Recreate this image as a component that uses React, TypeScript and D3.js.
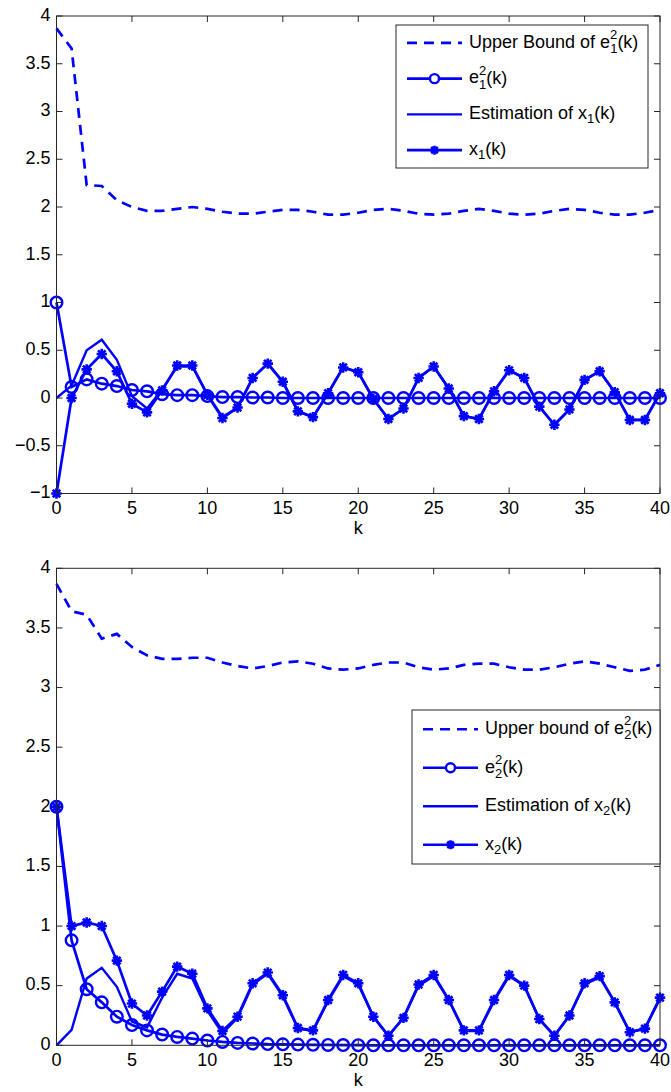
import * as d3 from "d3";

// k = 0..40
const upper1 = [3.87, 3.66, 2.23, 2.22, 2.07, 2.0, 1.96, 1.96, 1.98, 2.0, 1.98, 1.95, 1.93, 1.93, 1.95, 1.97, 1.97, 1.95, 1.92, 1.92, 1.94, 1.97, 1.98, 1.96, 1.93, 1.92, 1.93, 1.96, 1.98, 1.96, 1.93, 1.92, 1.93, 1.96, 1.98, 1.97, 1.94, 1.92, 1.92, 1.94, 1.97];
const e1sq = [1.0, 0.115, 0.195, 0.15, 0.125, 0.084, 0.07, 0.04, 0.03, 0.03, 0.02, 0.01, 0.01, 0.005, 0.005, 0, 0, 0, 0, 0, 0, 0, 0, 0, 0, 0, 0, 0, 0, 0, 0, 0, 0, 0, 0, 0, 0, 0, 0, 0, 0];
const est1 = [0, 0.13, 0.5, 0.61, 0.4, 0.02, -0.11, 0.09, 0.33, 0.33, 0.04, -0.2, -0.1, 0.21, 0.36, 0.17, -0.14, -0.2, 0.05, 0.32, 0.27, -0.01, -0.22, -0.11, 0.21, 0.33, 0.1, -0.19, -0.22, 0.07, 0.29, 0.21, -0.09, -0.28, -0.12, 0.19, 0.28, 0.06, -0.23, -0.23, 0.05];
const x1 = [-1, 0, 0.3, 0.46, 0.28, -0.06, -0.15, 0.08, 0.34, 0.34, 0.03, -0.21, -0.1, 0.21, 0.36, 0.17, -0.14, -0.2, 0.05, 0.32, 0.27, -0.01, -0.22, -0.11, 0.21, 0.33, 0.1, -0.19, -0.22, 0.07, 0.29, 0.21, -0.09, -0.28, -0.12, 0.19, 0.28, 0.06, -0.23, -0.23, 0.05];

const upper2 = [3.87, 3.64, 3.61, 3.41, 3.45, 3.34, 3.27, 3.24, 3.24, 3.25, 3.25, 3.21, 3.18, 3.16, 3.18, 3.21, 3.22, 3.2, 3.16, 3.15, 3.16, 3.19, 3.21, 3.21, 3.17, 3.15, 3.16, 3.19, 3.2, 3.2, 3.17, 3.15, 3.15, 3.17, 3.2, 3.22, 3.2, 3.17, 3.14, 3.15, 3.19];
const e2sq = [2, 0.88, 0.47, 0.36, 0.24, 0.17, 0.125, 0.09, 0.07, 0.056, 0.04, 0.028, 0.02, 0.015, 0.01, 0.008, 0.006, 0.004, 0.003, 0.002, 0.001, 0, 0, 0, 0, 0, 0, 0, 0, 0, 0, 0, 0, 0, 0, 0, 0, 0, 0, 0, 0];
const est2 = [0, 0.13, 0.56, 0.65, 0.49, 0.2, 0.15, 0.4, 0.6, 0.56, 0.29, 0.1, 0.23, 0.51, 0.6, 0.41, 0.14, 0.12, 0.37, 0.58, 0.51, 0.24, 0.08, 0.23, 0.5, 0.58, 0.38, 0.12, 0.12, 0.37, 0.58, 0.5, 0.22, 0.08, 0.25, 0.51, 0.57, 0.36, 0.11, 0.14, 0.39];
const x2 = [2, 1.0, 1.03, 1.0, 0.71, 0.35, 0.25, 0.45, 0.66, 0.6, 0.31, 0.12, 0.24, 0.52, 0.61, 0.42, 0.145, 0.125, 0.38, 0.59, 0.52, 0.24, 0.08, 0.23, 0.51, 0.59, 0.38, 0.125, 0.125, 0.38, 0.59, 0.5, 0.22, 0.08, 0.25, 0.52, 0.58, 0.36, 0.11, 0.14, 0.4];

const xTicks = [0, 5, 10, 15, 20, 25, 30, 35, 40];
const yTicks1 = [-1, -0.5, 0, 0.5, 1, 1.5, 2, 2.5, 3, 3.5, 4];
const yTicks2 = [0, 0.5, 1, 1.5, 2, 2.5, 3, 3.5, 4];

const BLUE = "#0000ff";
const FONT = "'Liberation Sans', Arial, sans-serif";
const FS = 18;

const fmt = (v: number) => (v < 0 ? "\u2212" + String(-v) : String(v));

function star(s: number) {
  const d = s * 0.72;
  return `M${-s},0H${s}M0,${-s}V${s}M${-d},${-d}L${d},${d}M${-d},${d}L${d},${-d}`;
}

function Label({ x, y, pre, sup, sub }: { x: number; y: number; pre: string; sup?: string; sub: string }) {
  return (
    <text x={x} y={y} fontSize={FS} fontFamily={FONT} fill="#000" dominantBaseline="middle">
      {pre}
      {sup ? (
        <>
          <tspan fontSize={13} dy={-7}>{sup}</tspan>
          <tspan fontSize={13} dx={-7.2} dy={14}>{sub}</tspan>
          <tspan dy={-7}>(k)</tspan>
        </>
      ) : (
        <>
          <tspan fontSize={13} dy={6}>{sub}</tspan>
          <tspan dy={-6}>(k)</tspan>
        </>
      )}
    </text>
  );
}

function Panel({ top, bottom, yDomain, yTicks, upper, err, est, xs, idx, upperWord, legend }: any) {
  const left = 56.5, right = 660;
  const x = d3.scaleLinear().domain([0, 40]).range([left, right]);
  const y = d3.scaleLinear().domain(yDomain).range([bottom, top]);
  const line = d3.line<number>().x((_, i) => x(i)).y((d) => y(d));
  const tl = 6;

  const lg = legend;
  const rowH = (lg.bottom - lg.top) / 4;
  const rows = [0, 1, 2, 3].map((i) => lg.top + rowH * (i + 0.5));
  const lx0 = lg.left + 11, lx1 = lx0 + 55, tx = lx1 + 7;

  return (
    <g>
      <rect x={left} y={top} width={right - left} height={bottom - top} fill="#fff" />
      {/* series */}
      <path d={line(upper) || ""} fill="none" stroke={BLUE} strokeWidth={2.7} strokeDasharray="10,7" />
      <path d={line(est) || ""} fill="none" stroke={BLUE} strokeWidth={2.4} />
      <path d={line(xs) || ""} fill="none" stroke={BLUE} strokeWidth={2.7} />
      <path d={line(err) || ""} fill="none" stroke={BLUE} strokeWidth={2.7} />
      {err.map((d: number, i: number) => (
        <circle key={"c" + i} cx={x(i)} cy={y(d)} r={5.8} fill="none" stroke={BLUE} strokeWidth={2.4} />
      ))}
      {xs.map((d: number, i: number) => (
        <path key={"s" + i} d={star(5.2)} transform={`translate(${x(i)},${y(d)})`} stroke={BLUE} strokeWidth={2.6} fill="none" />
      ))}
      {/* axes box */}
      <rect x={left} y={top} width={right - left} height={bottom - top} fill="none" stroke="#262626" strokeWidth={1} />
      {xTicks.map((t) => (
        <g key={"xt" + t}>
          <line x1={x(t)} x2={x(t)} y1={bottom} y2={bottom - tl} stroke="#262626" />
          <line x1={x(t)} x2={x(t)} y1={top} y2={top + tl} stroke="#262626" />
          <text x={x(t)} y={bottom + 16} textAnchor="middle" dominantBaseline="middle" fontSize={FS} fontFamily={FONT}>{t}</text>
        </g>
      ))}
      {yTicks.map((t: number) => (
        <g key={"yt" + t}>
          <line x1={left} x2={left + tl} y1={y(t)} y2={y(t)} stroke="#262626" />
          <line x1={right} x2={right - tl} y1={y(t)} y2={y(t)} stroke="#262626" />
          <text x={left - 6} y={y(t)} textAnchor="end" dominantBaseline="middle" fontSize={FS} fontFamily={FONT}>{fmt(t)}</text>
        </g>
      ))}
      <text x={(left + right) / 2} y={bottom + 36} textAnchor="middle" dominantBaseline="middle" fontSize={FS} fontFamily={FONT}>k</text>
      {/* legend */}
      <rect x={lg.left} y={lg.top} width={lg.right - lg.left} height={lg.bottom - lg.top} fill="#fff" stroke="#262626" strokeWidth={1} />
      <line x1={lx0} x2={lx1} y1={rows[0]} y2={rows[0]} stroke={BLUE} strokeWidth={2.7} strokeDasharray="10,7" />
      <Label x={tx} y={rows[0]} pre={`Upper ${upperWord} of e`} sup="2" sub={idx} />
      <line x1={lx0} x2={lx1} y1={rows[1]} y2={rows[1]} stroke={BLUE} strokeWidth={2.7} />
      <circle cx={(lx0 + lx1) / 2} cy={rows[1]} r={4.5} fill="#fff" stroke={BLUE} strokeWidth={2.4} />
      <Label x={tx} y={rows[1]} pre="e" sup="2" sub={idx} />
      <line x1={lx0} x2={lx1} y1={rows[2]} y2={rows[2]} stroke={BLUE} strokeWidth={2.4} />
      <Label x={tx} y={rows[2]} pre="Estimation of x" sub={idx} />
      <line x1={lx0} x2={lx1} y1={rows[3]} y2={rows[3]} stroke={BLUE} strokeWidth={2.7} />
      <path d={star(4.5)} transform={`translate(${(lx0 + lx1) / 2},${rows[3]})`} stroke={BLUE} strokeWidth={2.6} />
      <Label x={tx} y={rows[3]} pre="x" sub={idx} />
    </g>
  );
}

export default function App() {
  return (
    <div style={{ position: "absolute", left: 0, top: 0 }}>
      <svg width={671} height={1092} style={{ display: "block", background: "#fff" }}>
        <Panel
          top={16}
          bottom={493.5}
          yDomain={[-1, 4]}
          yTicks={yTicks1}
          upper={upper1}
          err={e1sq}
          est={est1}
          xs={x1}
          idx="1"
          upperWord="Bound"
          legend={{ left: 396, right: 648, top: 25, bottom: 168 }}
        />
        <Panel
          top={568.3}
          bottom={1045.3}
          yDomain={[0, 4]}
          yTicks={yTicks2}
          upper={upper2}
          err={e2sq}
          est={est2}
          xs={x2}
          idx="2"
          upperWord="bound"
          legend={{ left: 412, right: 660, top: 710, bottom: 864 }}
        />
      </svg>
    </div>
  );
}
